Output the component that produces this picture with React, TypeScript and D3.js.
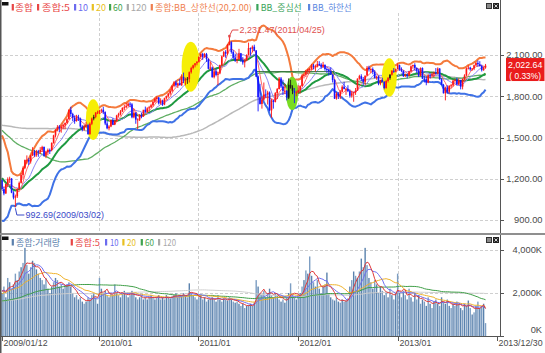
import React from 'react';
import * as d3 from 'd3';

// ---------- DATA ----------
const startDate = '2009-01-12';
const axisEndDate = '2013-12-30';

// weekly closes before the visible range (2006-09-25 .. 2009-01-05), used only for moving averages
const histCloses = [
  1371,1350,1344,1362,1374,1380,1388,1405,1410,1396,1412,1400,1415,1434,
  1385,1360,1380,1362,1372,1410,1432,1460,1410,1420,1440,1452,1452,1480,1510,1530,1545,1580,1600,1620,1640,1700,1720,1770,1760,1743,1800,1840,1930,1990,1860,1870,1640,1810,1870,1860,1880,1940,1950,2010,2030,1990,1960,2060,1930,1880,1800,1900,1960,1930,1890,1900,1850,
  1800,1700,1630,1700,1650,1720,1710,1710,1650,1600,1620,1690,1720,1780,1810,1830,1850,1840,1880,1860,1850,1810,1770,1730,1700,1620,1570,1520,1600,1580,1560,1550,1520,1470,1440,1480,1430,1500,1420,1240,1180,1000,1110,1150,1090,1020,1060,1050,1170,1160,1120,1160,
  1190,
];
const histVolumes = [
  1400,1350,1300,1450,1500,1420,1380,1450,1500,1400,1350,1300,1280,1200,
  1350,1400,1450,1380,1420,1500,1550,1600,1700,1500,1450,1480,1420,1550,1650,1700,1680,1750,1800,1850,1900,1950,1800,1900,1850,1750,1800,1900,2000,2100,1950,1900,2200,1900,1700,1600,1650,1700,1750,1800,1700,1650,1600,1750,1700,1600,1700,1650,1550,1500,1400,1350,1300,
  1500,1600,1700,1550,1500,1450,1400,1380,1420,1500,1450,1400,1450,1500,1550,1600,1550,1500,1600,1550,1500,1450,1400,1350,1300,1400,1450,1500,1450,1400,1350,1300,1350,1400,1450,1500,1550,1600,1650,1900,2100,2300,2200,2000,2100,2200,2300,2100,2000,2200,2100,1900,
  2200,
];

// weekly candles 2009-01-12 .. 2013-11-18
const opens = [
  1190,1124,1093,1162,1197,1201,1099,1063,1072,1126,1170,1228,1279,1336,1336,1325,1369,1395,1372,1400,1395,1410,1431,1367,1394,1410,1409,1460,1515,1557,1577,1568,1580,1592,1606,1633,1701,1671,1644,1620,1650,1638,1580,1557,1580,1590,1525,1600,1638,1650,1680,
  1683,1695,1702,1684,1602,1567,1580,1627,1594,1620,1660,1672,1690,1715,1720,1730,1746,1741,1647,1680,1630,1630,1664,1655,1702,1686,1712,1720,1735,1760,1780,1790,1748,1765,1740,1785,1800,1820,1840,1875,1900,1880,1894,1880,1941,1914,1925,1925,1975,2005,2025,2040,
  2051,2086,2108,2087,2107,2072,2000,2009,1939,1981,1955,1966,2027,2090,2121,2110,2175,2192,2122,2082,2060,2070,2110,2062,2046,2060,2100,2150,2145,2160,2133,1943,1793,1744,1776,1813,1812,1827,1697,1770,1759,1823,1852,1929,1871,1839,1840,1790,1883,1862,1840,1826,
  1828,1843,1875,1949,1956,1980,1995,1999,2023,2014,2019,2035,2030,2014,2029,1998,1994,1982,1957,1918,1783,1816,1800,1833,1869,1853,1854,1837,1804,1822,1829,1841,1928,1946,1925,1905,1950,2007,1996,1998,1977,1933,1942,1891,1918,1905,1860,1911,1932,1957,1985,1981,
  1997,2025,1996,1984,1947,1957,1950,1981,2018,2027,2006,1987,1950,2005,1928,1924,1900,1952,1950,1960,1971,1969,2001,1923,1882,1822,1863,1833,1876,1880,1913,1920,1885,1917,1870,1926,1951,2003,2008,1996,2002,2025,2042,2033,2020,1990,2009,
];
const highs = [
  1195,1140,1165,1210,1215,1205,1110,1085,1130,1180,1240,1290,1340,1370,1350,1375,1430,1410,1410,1410,1430,1440,1435,1400,1420,1420,1465,1520,1560,1590,1590,1590,1600,1610,1640,1705,1723,1680,1660,1665,1665,1645,1590,1595,1615,1600,1610,1645,1665,1685,1695,
  1700,1710,1723,1690,1620,1590,1630,1640,1630,1665,1680,1700,1720,1740,1752,1755,1757,1750,1710,1685,1640,1670,1680,1700,1725,1720,1730,1745,1765,1790,1800,1795,1785,1775,1790,1805,1825,1850,1880,1910,1915,1900,1925,1960,1972,1935,1940,1980,2015,2030,2040,2055,
  2090,2110,2115,2115,2115,2075,2050,2015,2000,2000,1980,2030,2095,2130,2135,2180,2231.47,2200,2135,2110,2095,2145,2115,2085,2070,2105,2190,2155,2170,2175,2135,1950,1890,1800,1900,1850,1840,1835,1780,1775,1830,1860,1940,1940,1920,1890,1845,1930,1920,1880,1860,1840,
  1880,1880,1960,1960,1990,2000,2005,2035,2035,2030,2057,2055,2040,2050,2030,2010,2000,2010,1960,1925,1830,1830,1845,1880,1905,1860,1880,1850,1840,1830,1860,1930,1956,1960,1940,1950,2020,2022,2005,2010,1990,1950,1950,1920,1935,1910,1920,1940,1960,1990,2005,2000,
  2040,2030,2010,1990,1965,1965,1985,2025,2030,2040,2010,2000,2010,2010,1950,1945,1960,1965,1975,1980,2005,2010,2005,1930,1890,1870,1880,1880,1890,1920,1925,1935,1930,1920,1930,1960,2010,2025,2015,2005,2030,2050,2060,2055,2030,2015,2035,
];
const lows = [
  1120,1080,1090,1140,1170,1095,1050,992.69,1060,1120,1165,1200,1270,1310,1300,1310,1365,1360,1360,1360,1380,1395,1360,1350,1370,1380,1400,1455,1500,1545,1540,1535,1560,1560,1600,1630,1650,1620,1600,1615,1620,1570,1545,1550,1570,1520,1520,1590,1625,1640,1670,
  1670,1680,1670,1590,1560,1552,1575,1590,1590,1615,1645,1660,1685,1700,1715,1725,1720,1640,1640,1600,1560,1620,1640,1650,1680,1680,1690,1715,1725,1750,1760,1740,1740,1730,1735,1775,1790,1810,1830,1865,1870,1860,1880,1875,1895,1880,1890,1900,1965,1995,2010,2025,
  2045,2070,2065,2080,2050,1995,1990,1935,1930,1945,1880,1960,2020,2085,2080,2100,2170,2110,2070,2050,2040,2065,2050,2030,2010,2055,2095,2095,2120,2130,1940,1690,1740,1710,1770,1790,1740,1690,1644,1710,1755,1780,1850,1860,1810,1815,1770,1780,1855,1815,1750,1800,
  1820,1820,1870,1930,1940,1960,1970,1990,1995,1980,2010,2020,2000,2005,1985,1970,1950,1955,1900,1780,1775,1780,1780,1830,1850,1810,1830,1790,1790,1760,1810,1840,1920,1910,1880,1880,1950,1980,1970,1960,1930,1920,1880,1880,1900,1850,1855,1900,1920,1950,1970,1975,
  1995,1985,1975,1940,1940,1930,1945,1975,2000,1990,1970,1940,1945,1925,1900,1880,1895,1930,1940,1940,1960,1960,1920,1880,1820,1770,1820,1820,1860,1870,1895,1880,1880,1850,1850,1915,1945,1995,1985,1985,1990,2020,2015,2015,1980,1985,2000,
];
const closes = [
  1124,1093,1162,1197,1201,1099,1063,1072,1126,1170,1228,1279,1336,1338,1325,1369,1395,1372,1400,1395,1410,1431,1367,1394,1410,1409,1460,1515,1557,1577,1568,1580,1592,1606,1633,1701,1671,1644,1620,1650,1638,1580,1557,1580,1590,1525,1600,1638,1650,1680,1683,
  1695,1702,1684,1602,1567,1580,1627,1594,1620,1660,1672,1690,1715,1720,1730,1746,1741,1647,1680,1630,1632,1664,1655,1702,1686,1712,1720,1735,1760,1780,1790,1748,1765,1740,1785,1800,1820,1840,1875,1900,1880,1894,1880,1941,1914,1925,1928,1975,2005,2025,2040,2051,
  2086,2108,2087,2107,2072,2000,2009,1939,1981,1955,1966,2027,2090,2121,2110,2175,2192,2122,2082,2060,2070,2110,2062,2046,2060,2100,2150,2145,2160,2133,1943,1793,1744,1776,1813,1812,1827,1697,1770,1759,1823,1852,1929,1871,1839,1840,1790,1883,1862,1840,1826,1828,
  1843,1875,1949,1956,1980,1995,1999,2023,2014,2019,2035,2030,2014,2029,1998,1994,1982,1957,1918,1783,1816,1800,1833,1869,1853,1854,1837,1804,1822,1829,1841,1928,1946,1925,1905,1950,2007,1996,1998,1977,1933,1942,1891,1918,1905,1860,1911,1932,1957,1985,1981,1997,
  2025,1996,1984,1947,1957,1950,1981,2018,2027,2006,1987,1950,2005,1928,1924,1900,1952,1950,1960,1971,1969,2001,1923,1882,1822,1863,1833,1876,1880,1913,1920,1885,1917,1870,1926,1951,2003,2008,1996,2002,2025,2042,2033,2020,1990,2009,2022.64,
];
// weekly volume (K)
const volumes = [
  2000,2300,1800,2700,2500,2200,2400,2900,2600,3000,3200,3400,4100,
  3300,2900,3200,3500,3400,3100,2900,2700,2600,2400,2700,2200,2000,
  2300,2500,2700,2600,2300,2400,2200,2300,2400,2500,2300,2000,1800,
  1900,1700,1800,1600,1500,1600,1800,1700,1900,2000,1800,1500,
  2700,2200,2000,
  2100,1900,1800,2000,1900,2400,2000,1900,1800,2000,2100,1900,1800,
  1900,2100,2000,1800,1700,1800,1900,1700,1800,1700,1800,1900,1800,1700,
  1800,1900,1700,1800,1700,1900,1800,1750,1850,1900,2000,1800,1900,1850,2000,1900,1800,
  2450,2000,1900,1800,1700,
  1800,1900,1700,1800,1600,1700,1750,1800,1700,1600,1900,1700,1600,1750,1700,1650,1800,1700,1600,1550,1600,1500,
  1400,1500,1300,1400,1450,1500,1400,1550,
  2600,2300,2000,1900,2100,1800,2000,2200,1900,1800,2000,1900,1700,
  1600,1700,1550,1800,2000,2450,1900,1800,1700,
  1900,2000,2300,2600,3050,2900,3700,2800,2500,2300,2600,
  2200,2000,2300,2400,2950,2000,1800,1700,1650,1800,1600,1550,1700,1600,1650,1750,
  2300,2600,3000,2800,2700,3000,3600,3200,4100,3300,2700,
  2500,2200,2600,2400,2000,2300,2100,1900,2000,1800,2200,1900,1700,2000,
  2900,2000,1800,2100,1900,1700,2200,1800,1600,2000,1700,1900,
  1500,1700,1600,1400,1800,1500,1300,1600,1700,1500,1400,1800,1600,1500,1700,1400,1300,1500,1400,1600,1500,1300,
  1200,1500,1400,1650,1300,1000,1100,1400,1600,1300,1400,1500,600,
];
const lastChangePct = 0.33;

const priceTicks = [900, 1200, 1500, 1800, 2100];
const volumeTicks = [0, 2000, 4000];
const dateTicks = ['2009-01-12', '2010-01-01', '2011-01-01', '2012-01-01', '2013-01-01', '2013-12-30'];
const dateTickLabels = ['2009/01/12', '2010/01', '2011/01', '2012/01', '2013/01', '2013/12/30'];
const gridDates = ['2010-01-01', '2011-01-01', '2012-01-01', '2013-01-01'];

const priceLegend = ['종합', '종합:5', '10', '20', '60', '120', '종합:BB_상한선(20,2.00)', 'BB_중심선', 'BB_하한선'];
const volumeLegend = ['종합:거래량', '종합:5', '10', '20', '60', '120'];

// highlight ellipses (date span and price span)
const hlStart = ['2009-11-15', '2010-11-01', '2011-11-18', '2012-11-03'];
const hlEnd = ['2010-01-08', '2011-01-07', '2012-01-02', '2012-12-28'];
const hlHigh = [1778, 2197, 1942, 2076];
const hlLow = [1482, 1833, 1700, 1797];
const hlKind = ['yellow', 'yellow', 'green', 'yellow'];
const darkWeeks = ['2009-12-14', '2010-11-22', '2011-11-28', '2011-12-05', '2011-12-12', '2012-12-03'];

const peakDate = '2011-04-25';
const peakValue = 2231.47;
const troughDate = '2009-03-02';
const troughValue = 992.69;

// support line
const supportStart = '2011-08-01';
const supportEnd = '2012-05-14';
const supportValue = 1979;

// ---------- HELPERS ----------
const parse = d3.timeParse('%Y-%m-%d');
function sma(series: number[], n: number, offset: number, count: number) {
  const out: number[] = [];
  for (let i = 0; i < count; i++) {
    const end = offset + i;
    out.push(d3.mean(series.slice(end - n + 1, end + 1)) as number);
  }
  return out;
}

export default function App() {
  const W = 545, H = 353;
  const n = closes.length;
  const start = parse(startDate)!;
  const dates = d3.range(n).map((i) => d3.timeDay.offset(start, 7 * i));
  const x = d3.scaleTime().domain([start, parse(axisEndDate)!]).range([2, 497]);
  const yP = d3.scaleLinear().domain([900, 2100]).range([220, 55]);
  const yV = d3.scaleLinear().domain([0, 4000]).range([336, 250]);

  const allC = histCloses.concat(closes);
  const allV = histVolumes.concat(volumes);
  const off = histCloses.length;
  const ma = (k: number) => sma(allC, k, off, n);
  const vma = (k: number) => sma(allV, k, off, n);
  const mid = ma(20);
  const sd = d3.range(n).map((i) => {
    const s = allC.slice(off + i - 19, off + i + 1);
    const m = d3.mean(s) as number;
    return Math.sqrt(d3.mean(s.map((v) => (v - m) * (v - m))) as number);
  });
  const upper = mid.map((m, i) => m + 2 * sd[i]);
  const lower = mid.map((m, i) => m - 2 * sd[i]);

  const lineP = d3.line<number>().x((_, i) => x(dates[i])).y((v) => yP(v));
  const lineV = d3.line<number>().x((_, i) => x(dates[i])).y((v) => yV(v));

  const priceLines = [
    { d: ma(120), c: '#b9b9b9', w: 1.5 },
    { d: ma(60), c: '#5fae62', w: 1.3 },
    { d: upper, c: '#f47a3c', w: 2 },
    { d: lower, c: '#3f72e6', w: 2 },
    { d: ma(20), c: '#f0c020', w: 1 },
    { d: mid, c: '#1f9a42', w: 2 },
    { d: ma(10), c: '#8a86f5', w: 1 },
    { d: ma(5), c: '#ff6a6a', w: 1 },
  ];
  const volLines = [
    { d: vma(120), c: '#cfcfcf', w: 1 },
    { d: vma(60), c: '#3f9f47', w: 1 },
    { d: vma(20), c: '#f0b22a', w: 1 },
    { d: vma(10), c: '#7070f2', w: 1 },
    { d: vma(5), c: '#e03a3a', w: 1 },
  ];

  const darkSet = new Set(darkWeeks);
  const fmtDate = d3.timeFormat('%Y-%m-%d');
  const fmtP = d3.format(',.2f');
  const fmtV = (v: number) => d3.format(',')(v) + 'K';

  const priceLegendLayout = [[12.7, 15, 18], [38, 41.7, 28.3], [75, 78, 10], [92.7, 96, 10], [110, 113, 9.7], [127.7, 130.7, 16], [151.7, 155, 96.7], [257.3, 260.7, 41], [309, 312.3, 39.4]];
  const priceLegendColors = ['#e84545', '#e84545', '#6b6bef', '#e8c020', '#3fa34f', '#a8a8a8', '#ef7f4f', '#3aa35a', '#5a86e0'];
  const volLegendLayout = [[12.7, 16, 44], [71.7, 75, 25], [106, 110, 8.5], [123.3, 127, 9], [141.7, 145, 9], [159, 163, 13]];
  const volLegendColors = ['#5b80ad', '#e84545', '#6b6bef', '#e8c020', '#3fa34f', '#a8a8a8'];

  const kr = "'Noto Sans CJK KR', sans-serif";
  const sans = "'Liberation Sans', Arial, sans-serif";
  const axisColor = '#555';
  const gridColor = '#cfcfcf';

  const peakX = x(parse(peakDate)!);
  const peakY = yP(peakValue);
  const troughX = x(parse(troughDate)!);
  const troughY = yP(troughValue);
  const lastY = yP(closes[n - 1]);

  return (
    <svg width={W} height={H} style={{ position: 'absolute', left: 0, top: 0, background: '#fff' }} xmlns="http://www.w3.org/2000/svg">
      <defs>
        <clipPath id="cp"><rect x={0} y={12} width={500} height={221} /></clipPath>
        <clipPath id="cv"><rect x={0} y={244} width={500} height={92} /></clipPath>
      </defs>
      <rect x={0} y={0} width={W} height={H} fill="#fff" />

      {/* grid */}
      {gridDates.map((g) => {
        const gx = Math.round(x(parse(g)!)) + 0.5;
        return (
          <g key={g}>
            <line x1={gx} x2={gx} y1={13} y2={233} stroke={gridColor} strokeDasharray="3,2" />
            <line x1={gx} x2={gx} y1={246} y2={336} stroke={gridColor} strokeDasharray="3,2" />
          </g>
        );
      })}
      {priceTicks.map((t) => (
        <line key={t} x1={0} x2={500} y1={Math.round(yP(t)) + 0.5} y2={Math.round(yP(t)) + 0.5} stroke={gridColor} strokeDasharray="3,2" />
      ))}
      {volumeTicks.filter((t) => t > 0).map((t) => (
        <line key={t} x1={0} x2={500} y1={Math.round(yV(t)) + 0.5} y2={Math.round(yV(t)) + 0.5} stroke={gridColor} strokeDasharray="3,2" />
      ))}

      {/* price lines */}
      <g clipPath="url(#cp)" fill="none">
        {priceLines.map((l, k) => (
          <path key={k} d={lineP(l.d) || ''} stroke={l.c} strokeWidth={l.w} strokeLinejoin="round" />
        ))}
        <line x1={x(parse(supportStart)!)} x2={x(parse(supportEnd)!)} y1={yP(supportValue)} y2={yP(supportValue)} stroke="#2e6e36" strokeWidth={1} />
        {hlStart.map((s, k) => {
          const x0 = x(parse(s)!), x1 = x(parse(hlEnd[k])!);
          const y0 = yP(hlHigh[k]), y1 = yP(hlLow[k]);
          return (
            <ellipse key={s} cx={(x0 + x1) / 2} cy={(y0 + y1) / 2} rx={(x1 - x0) / 2} ry={(y1 - y0) / 2}
              fill={hlKind[k] === 'green' ? '#78dc22' : '#f6ee06'} />
          );
        })}
        {/* candles */}
        {dates.map((d, i) => {
          const cx = x(d);
          const o = opens[i], c = closes[i];
          const up = c >= o;
          const dark = darkSet.has(fmtDate(d));
          const col = dark ? '#1a1a1a' : up ? '#ff1414' : '#1414ff';
          const top = yP(Math.max(o, c));
          const h = Math.max(1, yP(Math.min(o, c)) - top);
          return (
            <g key={i}>
              <line x1={cx} x2={cx} y1={yP(highs[i])} y2={yP(lows[i])} stroke={col} strokeWidth={0.9} />
              <rect x={cx - 0.8} y={top} width={1.6} height={h} fill={col} />
            </g>
          );
        })}
      </g>

      {/* annotations */}
      <path d={`M${peakX},${peakY - 1} L${peakX + 3},${30} L${peakX + 9},${30}`} fill="none" stroke="#e04848" strokeWidth={1} />
      <rect x={peakX - 1.2} y={peakY - 2} width={2.4} height={2.4} fill="#e04848" />
      <text x={peakX + 10} y={33.3} fontFamily={sans} fontSize={9} fill="#e05050">
        {fmtP(peakValue) + '(' + peakDate.replace(/-/g, '/') + ')'}
      </text>
      <path d={`M${troughX},${troughY + 1} L${troughX + 1.5},${215} L${troughX + 9},${215}`} fill="none" stroke="#3a4ac8" strokeWidth={1} />
      <text x={troughX + 10} y={218.3} fontFamily={sans} fontSize={9} fill="#3a4ac8">
        {fmtP(troughValue) + '(' + troughDate.replace(/-/g, '/') + ')'}
      </text>

      {/* volume bars & lines */}
      <g clipPath="url(#cv)">
        {dates.map((d, i) => (
          <rect key={i} x={x(d) - 0.7} y={yV(volumes[i])} width={1.4} height={yV(0) - yV(volumes[i])} fill={i % 2 ? '#7d9ec3' : '#5a82ad'} />
        ))}
        {volLines.map((l, k) => (
          <path key={k} d={lineV(l.d) || ''} stroke={l.c} strokeWidth={l.w} fill="none" strokeLinejoin="round" />
        ))}
      </g>

      {/* frame & axes */}
      <line x1={0.75} x2={0.75} y1={0} y2={H} stroke="#555" strokeWidth={1.5} />
      <line x1={500.5} x2={500.5} y1={0} y2={337} stroke={axisColor} strokeWidth={1} />
      <line x1={0} x2={W} y1={234} y2={234} stroke="#8f8f8f" strokeWidth={2} />
      <line x1={0} x2={501} y1={336.5} y2={336.5} stroke={axisColor} strokeWidth={1} />

      {priceTicks.map((t) => (
        <g key={t}>
          <line x1={500} x2={504} y1={Math.round(yP(t)) + 0.5} y2={Math.round(yP(t)) + 0.5} stroke={axisColor} />
          <text x={542.5} y={yP(t) + 3.3} textAnchor="end" fontFamily={sans} fontSize={9.3} fill="#4a4a4a">{fmtP(t)}</text>
        </g>
      ))}
      {volumeTicks.map((t) => (
        <g key={t}>
          <line x1={500} x2={504} y1={Math.round(yV(t)) + 0.5} y2={Math.round(yV(t)) + 0.5} stroke={axisColor} />
          <text x={542} y={t === 0 ? 333.3 : yV(t) + 3.3} textAnchor="end" fontFamily={sans} fontSize={9.3} fill="#4a4a4a">{fmtV(t)}</text>
        </g>
      ))}
      {dateTicks.map((t, k) => {
        const tx = Math.round(x(parse(t)!)) + 0.5;
        return (
          <g key={t}>
            <line x1={tx} x2={tx} y1={336.5} y2={341} stroke={axisColor} />
            <text x={tx + 1} y={346} fontFamily={sans} fontSize={8.8} fill="#4a4a4a">{dateTickLabels[k]}</text>
          </g>
        );
      })}

      {/* last price box */}
      <rect x={506} y={lastY - 7.6} width={38.5} height={23} fill="#ea1c1c" />
      <text x={525.2} y={lastY + 2.6} textAnchor="middle" fontFamily={sans} fontSize={8.8} fill="#fff">{fmtP(closes[n - 1])}</text>
      <text x={525.2} y={lastY + 13} textAnchor="middle" fontFamily={sans} fontSize={8.4} fill="#fff">{'( ' + lastChangePct.toFixed(2) + '%)'}</text>

      {/* legends */}
      <rect x={2} y={2} width={6.5} height={3.5} fill="#111" />
      {priceLegend.map((lab, k) => {
        const [mx, tx, tw] = priceLegendLayout[k];
        return (
          <g key={lab + k}>
            <rect x={mx - 1} y={4} width={2.2} height={6.5} fill={priceLegendColors[k]} />
            <text x={tx} y={10.8} fontFamily={kr} fontSize={9} fill={priceLegendColors[k]} textLength={tw} lengthAdjust="spacingAndGlyphs">{lab}</text>
          </g>
        );
      })}
      <rect x={2} y={236.5} width={6.5} height={3.5} fill="#111" />
      {volumeLegend.map((lab, k) => {
        const [mx, tx, tw] = volLegendLayout[k];
        return (
          <g key={lab + k}>
            <rect x={mx - 1} y={239} width={2.2} height={6.5} fill={volLegendColors[k]} />
            <text x={tx} y={245.6} fontFamily={kr} fontSize={8.6} fill={volLegendColors[k]} textLength={tw} lengthAdjust="spacingAndGlyphs">{lab}</text>
          </g>
        );
      })}

      {/* window buttons */}
      {[3, 237].map((by) => (
        <g key={by}>
          <rect x={486.5} y={by + 0.5} width={5} height={5} fill="#8a8a8a" stroke="#333" strokeWidth={1} />
          <rect x={493.5} y={by + 0.5} width={5} height={5} fill="#222" stroke="#222" strokeWidth={1} />
          <path d={`M${494.5},${by + 1.5} L${497.5},${by + 4.5} M${497.5},${by + 1.5} L${494.5},${by + 4.5}`} stroke="#fff" strokeWidth={0.8} />
        </g>
      ))}
    </svg>
  );
}
